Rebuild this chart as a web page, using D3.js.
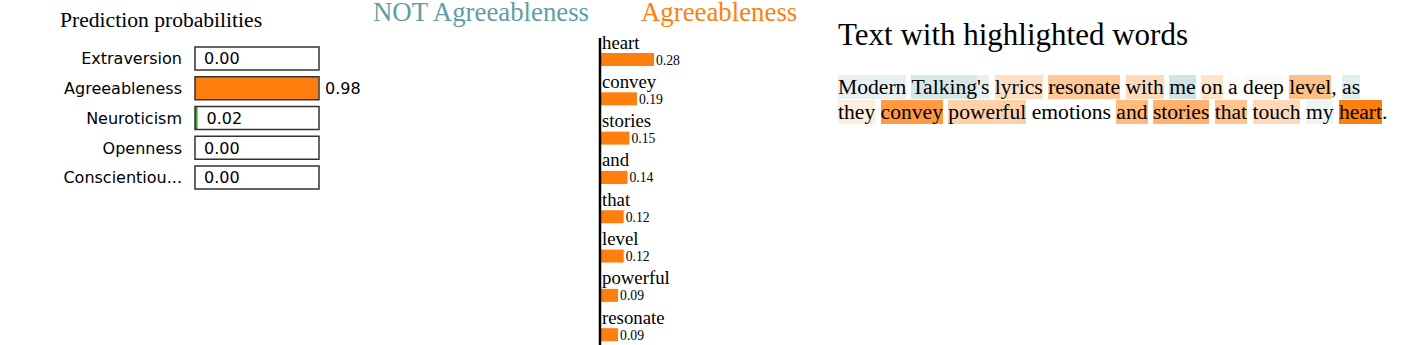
<!DOCTYPE html>
<html>
<head>
<meta charset="utf-8">
<script src="https://cdn.jsdelivr.net/npm/d3@7/dist/d3.min.js"></script>
<style>
  html, body { margin: 0; padding: 0; background: #fff; }
  #root { position: relative; width: 1419px; height: 345px; overflow: hidden; }
  svg { position: absolute; left: 0; top: 0; }
  #textbox { position: absolute; left: 838px; top: 0px; width: 556px; font-family: "Liberation Serif", "Times New Roman", serif; }
  #textbox h3 { font-weight: normal; font-size: 31px; margin: 0; position: absolute; top: 17px; left: 0; white-space: nowrap; line-height: 36px; }
  #textbox .para { position: absolute; top: 75px; left: 0; width: 556px; font-size: 21.6px; line-height: 24.5px; }
</style>
</head>
<body>
<div id="root">
  <svg id="chart" width="1419" height="345"></svg>
  <div id="textbox"></div>
</div>
<script>
// ---- data ----
const classNames = ["Extraversion", "Agreeableness", "Neuroticism", "Openness", "Conscientiou..."];
const classProbs = [0.00, 0.98, 0.02, 0.00, 0.00];
const classColors = ["#1f77b4", "#ff7f0e", "#2ca02c", "#d62728", "#9467bd"];

const featureWords = ["heart", "convey", "stories", "and", "that", "level", "powerful", "resonate"];
const featureWeights = [0.28, 0.19, 0.15, 0.14, 0.12, 0.12, 0.09, 0.09];

const negLabel = "NOT Agreeableness";
const posLabel = "Agreeableness";

const textTokens = ["Modern", " ", "Talking", "'s", " ", "lyrics", " ", "resonate", " ", "with", " ", "me", " ", "on", " ", "a", " ", "deep", " ", "level", ",", " ", "as", " ",
                    "they", " ", "convey", " ", "powerful", " ", "emotions", " ", "and", " ", "stories", " ", "that", " ", "touch", " ", "my", " ", "heart", "."];
const textWeights = [-0.04, 0, -0.07, -0.04, 0, 0.07, 0, 0.12, 0, 0.08, 0, -0.08, 0, 0.06, 0, 0.01, 0, 0.01, 0, 0.14, 0, 0, -0.05, 0,
                     0.04, 0, 0.22, 0, 0.10, 0, 0, 0, 0.15, 0, 0.17, 0, 0.13, 0, 0.08, 0, -0.03, 0, 0.28, 0];

// ---- left: prediction probabilities ----
const svg = d3.select("#chart");
const left = svg.append("g");
left.append("text").attr("x", 60).attr("y", 27)
  .style("font-family", "Liberation Serif, serif").style("font-size", "21.6px").attr("fill", "#000")
  .text("Prediction probabilities");

const probX = d3.scaleLinear().domain([0, 1]).range([0, 126]);
const boxW = 124;
const probY = d3.scaleBand().domain(classNames).range([47, 189]).paddingInner(0.227).paddingOuter(0);
const rows = left.selectAll("g.row").data(classNames).join("g").attr("class", "row")
  .attr("transform", d => `translate(0,${probY(d)})`);
rows.append("rect").attr("x", 195).attr("y", 0)
  .attr("width", (d, i) => Math.min(probX(classProbs[i]), boxW)).attr("height", probY.bandwidth())
  .attr("fill", (d, i) => classColors[i]);
rows.append("rect").attr("x", 195).attr("y", 0)
  .attr("width", boxW).attr("height", probY.bandwidth())
  .attr("fill", "none").attr("stroke", "#333").attr("stroke-width", 1.5);
rows.append("text").attr("x", 182).attr("y", probY.bandwidth() / 2 + 6)
  .attr("text-anchor", "end").style("font-family", "DejaVu Sans, sans-serif").style("font-size", "16px")
  .text(d => d);
rows.append("text").attr("x", (d, i) => classProbs[i] > 0.5 ? 195 + boxW + 6 : 195 + probX(classProbs[i]) + 9)
  .attr("y", probY.bandwidth() / 2 + 6)
  .style("font-family", "DejaVu Sans, sans-serif").style("font-size", "16px")
  .text((d, i) => classProbs[i].toFixed(2));

// ---- middle: feature weights ----
const mid = svg.append("g");
mid.append("text").attr("x", 373).attr("y", 21)
  .style("font-family", "Liberation Serif, serif").style("font-size", "26.8px").attr("fill", "#5F9EA0")
  .text(negLabel);
mid.append("text").attr("x", 641).attr("y", 21)
  .style("font-family", "Liberation Serif, serif").style("font-size", "26.8px").attr("fill", "#ff7f0e")
  .text(posLabel);

const axisX = 600;
const wx = d3.scaleLinear().domain([0, 0.28]).range([0, 53]);
const wy = d3.scaleBand().domain(featureWords).range([37, 351.5]).paddingInner(0).paddingOuter(0);
const items = mid.selectAll("g.item").data(featureWords).join("g").attr("class", "item")
  .attr("transform", d => `translate(0,${wy(d)})`);
items.append("text").attr("x", axisX + 2).attr("y", 11.5)
  .style("font-family", "Liberation Serif, serif").style("font-size", "18.8px").text(d => d);
items.append("rect").attr("x", axisX + 1).attr("y", 16)
  .attr("width", (d, i) => wx(featureWeights[i])).attr("height", 13).attr("fill", "#ff7f0e");
items.append("text").attr("x", (d, i) => axisX + 1 + wx(featureWeights[i]) + 2).attr("y", 27.5)
  .style("font-family", "Liberation Serif, serif").style("font-size", "13.7px")
  .text((d, i) => featureWeights[i].toFixed(2));
mid.append("line").attr("x1", axisX).attr("x2", axisX).attr("y1", 38).attr("y2", 345)
  .attr("stroke", "#000").attr("stroke-width", 2.5);

// ---- right: highlighted text ----
const hl = d3.scaleLinear().domain([-0.28, 0, 0.28]).range(["#5F9EA0", "#ffffff", "#ff7f0e"]);
const tb = d3.select("#textbox");
tb.append("h3").text("Text with highlighted words");
const para = tb.append("div").attr("class", "para");
para.selectAll("span").data(textTokens).join("span")
  .style("background-color", (d, i) => textWeights[i] !== 0 ? hl(textWeights[i]) : null)
  .text(d => d);
</script>
</body>
</html>
